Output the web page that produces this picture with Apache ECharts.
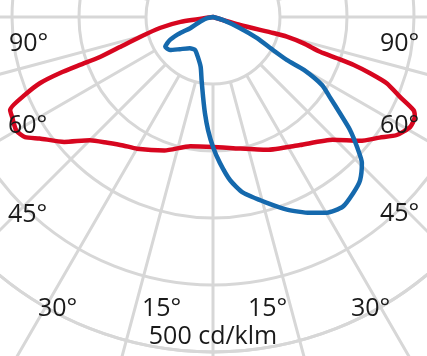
<!DOCTYPE html>
<html>
<head>
<meta charset="utf-8">
<script src="https://cdn.jsdelivr.net/npm/echarts@6/dist/echarts.min.js"></script>
<style>
html,body{margin:0;padding:0;background:#fff;}
#chart{width:427px;height:356px;}
</style>
</head>
<body>
<div id="chart"></div>
<script>
// Radius scale (cd/klm) and angle grid
var radiusTicks = [0, 100, 200, 300, 400, 500];
var angleLabels = ['90°', '90°', '60°', '60°', '45°', '45°', '30°', '15°', '15°', '30°'];
var unitLabel = '500 cd/klm';

// Red curve (C90-C270 plane): path angles (deg, 0 = straight down) and intensities (cd/klm)
var redAngles = [-90, -81.4, -78.3, -74.7, -72.1, -70.5, -70.2, -69.9, -69.1, -67.5, -65.4, -63.5, -60, -57.4, -55, -50, -45, -40, -35, -30, -20, -10, 0, 8.7, 22.1, 34.2, 44.3, 49.9, 54.1, 57.3, 60.9, 63.7, 65.1, 66.9, 69.1, 70.3, 71.2, 71.6, 72, 73.8, 75.1, 75.1, 73.5, 74];
var redValues = [0, 49, 81, 113, 146, 179, 210, 243, 276, 304, 333, 335, 339, 333, 316, 290, 260, 245, 234, 227, 212, 196, 194, 198, 214, 231, 256, 287, 307, 326, 337, 336, 330, 303, 278, 249, 222, 195, 168, 141, 114, 93, 42, 0];

// Blue curve (C0-C180 plane)
var blueAngles = [-90, -78, -68.2, -63.8, -63.9, -63.6, -61.9, -58, -52.5, -45.9, -36.6, -28.6, -20.6, -13.8, -10.2, -7.1, -4.8, -2.5, 0, 2.7, 6, 9.7, 16.2, 21, 26.3, 30.2, 34.4, 38.5, 42, 45.6, 47.9, 50.5, 52.9, 55.6, 58, 59.8, 59.8, 61.2, 64.5, 67.8, 73, 90];
var blueValues = [0, 10, 24, 38, 50, 60, 73, 84, 81, 69, 58, 56, 64, 77, 96, 120, 144, 169, 194, 218, 245, 266, 289, 308, 326, 338, 343, 336, 328, 311, 290, 265, 237, 211, 192, 157, 128, 102, 73, 43, 15, 0];

function pairs(vals, angs) {
  var out = [];
  for (var i = 0; i < vals.length; i++) out.push([vals[i], angs[i]]);
  return out;
}

var grey = '#d7d7d7';
var font = '25px "Open Sans"';
var txt = '#1a1a1a';
var labelPos = [
  [9, 44], [380, 44], [8, 126], [380, 126], [8, 215], [380, 214],
  [38, 309], [142, 309], [248, 309], [351, 309]
];
var graphics = angleLabels.map(function (t, i) {
  return {type: 'text', z: 100, style: {text: t, x: labelPos[i][0], y: labelPos[i][1], font: font, fill: txt, textAlign: 'left', textVerticalAlign: 'middle'}};
});
graphics.push({type: 'text', z: 100, style: {text: unitLabel, x: 213, y: 337, font: font, fill: txt, textAlign: 'center', textVerticalAlign: 'middle'}});

var chart = echarts.init(document.getElementById('chart'), null, {renderer: 'canvas'});
chart.setOption({
  backgroundColor: '#ffffff',
  animation: false,
  polar: [
    {center: [213, 17], radius: [0, 335]},
    {center: [213, 17], radius: [67, 560]}
  ],
  angleAxis: [
    {polarIndex: 0, type: 'value', min: -180, max: 180, interval: 15, startAngle: 90, clockwise: false,
     axisLine: {show: true, lineStyle: {color: grey, width: 3}}, axisTick: {show: false}, axisLabel: {show: false}, splitLine: {show: false}},
    {polarIndex: 1, type: 'value', min: -180, max: 180, interval: 15, startAngle: 90, clockwise: false,
     axisLine: {show: false}, axisTick: {show: false}, axisLabel: {show: false},
     splitLine: {show: true, lineStyle: {color: grey, width: 3}}}
  ],
  radiusAxis: [
    {polarIndex: 0, type: 'value', min: radiusTicks[0], max: radiusTicks[radiusTicks.length - 1], interval: 100,
     axisLine: {show: false}, axisTick: {show: false}, axisLabel: {show: false},
     splitLine: {show: true, lineStyle: {color: grey, width: 3}}},
    {polarIndex: 1, type: 'value', min: 0, max: 1, show: false, splitLine: {show: false}}
  ],
  series: [
    {type: 'line', coordinateSystem: 'polar', polarIndex: 0, data: pairs(redValues, redAngles), showSymbol: false, clip: false,
     smooth: 0.2, lineStyle: {color: '#d7061f', width: 4.5, join: 'round', cap: 'round'}, z: 3},
    {type: 'line', coordinateSystem: 'polar', polarIndex: 0, data: pairs(blueValues, blueAngles), showSymbol: false, clip: false,
     smooth: 0.2, lineStyle: {color: '#1569ad', width: 4.5, join: 'round', cap: 'round'}, z: 4}
  ],
  graphic: graphics
});
</script>
</body>
</html>
